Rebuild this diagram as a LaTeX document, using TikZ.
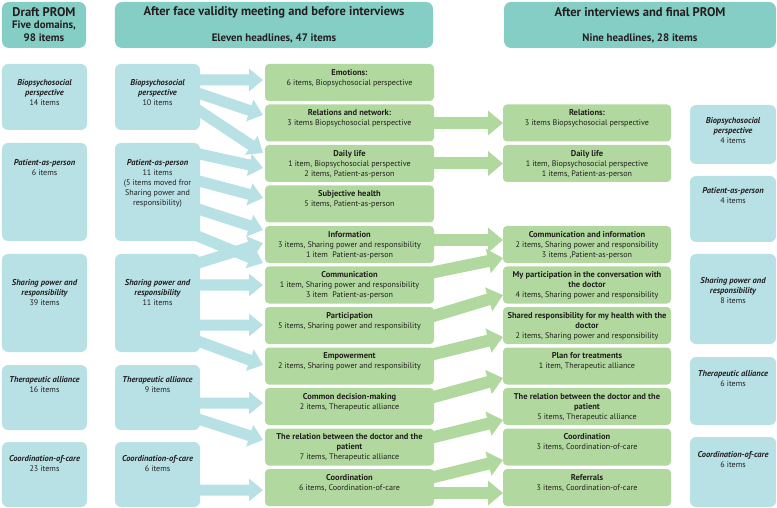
\documentclass[tikz,border=0pt]{standalone}
\usepackage{fontspec}
\setmainfont{PT Sans}
\usetikzlibrary{arrows.meta}
\definecolor{hdr}{HTML}{85CEC6}
\definecolor{lb}{HTML}{B7E1E5}
\definecolor{gr}{HTML}{B1D89E}
\definecolor{ink}{HTML}{231F20}
\newcommand\bi[1]{{\fontsize{8.5}{10}\selectfont\bfseries\itshape #1}}
\newcommand\tb[1]{{\fontsize{8.5}{10}\selectfont\bfseries #1}}
\begin{document}
\begin{tikzpicture}[x=1bp,y=-1bp,
  box/.style={draw=none, rounded corners=5bp, inner sep=0pt, outer sep=0pt},
  hbox/.style={box, fill=hdr, rounded corners=7bp},
  bbox/.style={box, fill=lb, rounded corners=6bp},
  gbox/.style={box, fill=gr, rounded corners=4bp, minimum width=169bp, minimum height=37bp},
  fbox/.style={box, fill=gr, rounded corners=4bp, minimum width=168bp, minimum height=37bp},
  sz/.style 2 args={minimum width=#1bp, minimum height=#2bp},
  txt/.style={inner sep=0pt, align=center, text=ink, font=\fontsize{8.1}{10}\selectfont},
  htxt/.style={inner sep=0pt, align=center, text=ink, font=\fontsize{10.9}{12}\selectfont\bfseries},
  ttxt/.style={inner sep=0pt, align=center, text=ink, font=\fontsize{12.6}{14}\selectfont\bfseries},
  barrow/.style={draw=lb, line width=11bp, -{Triangle[length=14bp,width=22bp]}},
  garrow/.style={draw=gr, line width=12bp, -{Triangle[length=15bp,width=24bp]}},
]
\useasboundingbox (0,0) rectangle (777,508);
% headers
\node[hbox, sz={84}{46}] (h1) at (44,25) {};
\node[hbox, sz={318}{46}] (h2) at (274,25) {};
\node[hbox, sz={272}{46}] (h3) at (640,25) {};
% column 1
\node[bbox, sz={85}{66}] (c1bio) at (44.5,97) {};
\node[bbox, sz={85}{98}] (c1pat) at (44.5,192) {};
\node[bbox, sz={85}{98}] (c1sha) at (44.5,303) {};
\node[bbox, sz={85}{65}] (c1the) at (44.5,397.5) {};
\node[bbox, sz={85}{65}] (c1coo) at (44.5,474.5) {};
% column 2
\node[bbox, sz={85}{66}] (c2bio) at (157.5,97) {};
\node[bbox, sz={85}{98}] (c2pat) at (157.5,192) {};
\node[bbox, sz={85}{98}] (c2sha) at (157.5,303) {};
\node[bbox, sz={85}{65}] (c2the) at (157.5,397.5) {};
\node[bbox, sz={85}{65}] (c2coo) at (157.5,474.5) {};
% column 5
\node[bbox, sz={86}{59}] (c5bio) at (733,134.5) {};
\node[bbox, sz={86}{66}] (c5pat) at (733,209) {};
\node[bbox, sz={86}{90}] (c5sha) at (733,299) {};
\node[bbox, sz={86}{68}] (c5the) at (733,391) {};
\node[bbox, sz={86}{70}] (c5coo) at (733,472) {};
% column 3
\node[gbox] (e0) at (349.5,82.5) {};
\node[gbox] (e1) at (349.5,123) {};
\node[gbox] (e2) at (349.5,163.5) {};
\node[gbox] (e3) at (349.5,204) {};
\node[gbox] (e4) at (349.5,244.5) {};
\node[gbox] (e5) at (349.5,285) {};
\node[gbox] (e6) at (349.5,325.5) {};
\node[gbox] (e7) at (349.5,366) {};
\node[gbox] (e8) at (349.5,406.5) {};
\node[gbox] (e9) at (349.5,447) {};
\node[gbox] (e10) at (349.5,487.5) {};
% column 4
\node[fbox] (f1) at (587,123) {};
\node[fbox] (f2) at (587,163.5) {};
\node[fbox] (f4) at (587,244.5) {};
\node[fbox] (f5) at (587,285) {};
\node[fbox] (f6) at (587,325.5) {};
\node[fbox] (f7) at (587,366) {};
\node[fbox] (f8) at (587,406.5) {};
\node[fbox] (f9) at (587,447) {};
\node[fbox] (f10) at (587,487.5) {};
% blue arrows
\draw[barrow] ([xshift=-5bp,yshift=17bp]c2bio.east) -- ([xshift=-2bp,yshift=2.5bp]e0.west);
\draw[barrow] ([xshift=-5bp,yshift=5bp]c2bio.east) -- ([xshift=-2bp,yshift=8bp]e1.west);
\draw[barrow] ([xshift=-5bp,yshift=-11bp]c2bio.east) -- ([xshift=-2bp,yshift=10.5bp]e2.west);
\draw[barrow] ([xshift=-5bp,yshift=39bp]c2pat.east) -- ([xshift=-2bp,yshift=-4.5bp]e2.west);
\draw[barrow] ([xshift=-5bp,yshift=12bp]c2pat.east) -- ([xshift=-2bp,yshift=6bp]e3.west);
\draw[barrow] ([xshift=-5bp,yshift=-16bp]c2pat.east) -- ([xshift=-2bp,yshift=14.5bp]e4.west);
\draw[barrow] ([xshift=-5bp,yshift=-43bp]c2pat.east) -- ([xshift=-2bp,yshift=22bp]e5.west);
\draw[barrow] ([xshift=-5bp,yshift=39bp]c2sha.east) -- ([xshift=-2bp,yshift=1.5bp]e4.west);
\draw[barrow] ([xshift=-5bp,yshift=18bp]c2sha.east) -- ([xshift=-2bp,yshift=0bp]e5.west);
\draw[barrow] ([xshift=-5bp,yshift=-22bp]c2sha.east) -- ([xshift=-2bp,yshift=0.5bp]e6.west);
\draw[barrow] ([xshift=-5bp,yshift=-37bp]c2sha.east) -- ([xshift=-2bp,yshift=1bp]e7.west);
\draw[barrow] ([xshift=-5bp,yshift=-5.5bp]c2the.east) -- ([xshift=-2bp,yshift=3.5bp]e8.west);
\draw[barrow] ([xshift=-5bp,yshift=-20.5bp]c2the.east) -- ([xshift=-2bp,yshift=7bp]e9.west);
\draw[barrow] ([xshift=-5bp,yshift=-15.5bp]c2coo.east) -- ([xshift=-2bp,yshift=-2.5bp]e10.west);
% green arrows
\draw[garrow] ([xshift=-4bp]e1.east) -- (f1.west);
\draw[garrow] ([xshift=-4bp]e2.east) -- (f2.west);
\draw[garrow] ([xshift=-4bp,yshift=4.5bp]e4.east) -- ([yshift=4.5bp]f4.west);
\draw[garrow] ([xshift=-4bp,yshift=12bp]e5.east) -- ([yshift=-13.5bp]f4.west);
\draw[garrow] ([xshift=-4bp,yshift=8.5bp]e6.east) -- ([yshift=-10bp]f5.west);
\draw[garrow] ([xshift=-4bp,yshift=11bp]e7.east) -- ([yshift=-11.5bp]f6.west);
\draw[garrow] ([xshift=-4bp,yshift=8.5bp]e8.east) -- ([yshift=-12bp]f7.west);
\draw[garrow] ([xshift=-4bp,yshift=9bp]e9.east) -- ([yshift=-13.5bp]f8.west);
\draw[garrow] ([xshift=-4bp,yshift=9.5bp]e10.east) -- ([yshift=-13bp]f9.west);
\draw[garrow] ([xshift=-4bp,yshift=-5.5bp]e10.east) -- ([yshift=-5.5bp]f10.west);
% header texts
\node[ttxt] (h1a) at (44,12) {Draft PROM};
\node[htxt] (h1b) at (44,25) {Five domains,};
\node[htxt] (h1c) at (44,38) {98 items};
\node[ttxt] (h2a) at (274,12) {After face validity meeting and before interviews};
\node[htxt] (h2b) at (274,38) {Eleven headlines, 47 items};
\node[ttxt] (h3a) at (640,12) {After interviews and final PROM};
\node[htxt] (h3b) at (640,38) {Nine headlines, 28 items};
% column 1 texts
\node[txt, anchor=north] (t1bio) at ([yshift=-15bp]c1bio.north) {\bi{Biopsychosocial}\\\bi{perspective}\\14 items};
\node[txt, anchor=north] (t1pat) at ([yshift=-16bp]c1pat.north) {\bi{Patient-as-person}\\6 items};
\node[txt, anchor=north] (t1sha) at ([yshift=-25bp]c1sha.north) {\bi{Sharing power and}\\\bi{responsibility}\\39 items};
\node[txt, anchor=north] (t1the) at ([yshift=-11bp]c1the.north) {\bi{Therapeutic alliance}\\16 items};
\node[txt, anchor=north] (t1coo) at ([yshift=-13bp]c1coo.north) {\bi{Coordination-of-care}\\23 items};
% column 2 texts
\node[txt, anchor=north] (t2bio) at ([yshift=-15bp]c2bio.north) {\bi{Biopsychosocial}\\\bi{perspective}\\10 items};
\node[txt, anchor=north] (t2pat) at ([yshift=-16bp]c2pat.north) {\bi{Patient-as-person}\\11 items\\(5 items moved fror\\Sharing power and\\responsibility)};
\node[txt, anchor=north] (t2sha) at ([yshift=-25bp]c2sha.north) {\bi{Sharing power and}\\\bi{responsibility}\\11 items};
\node[txt, anchor=north] (t2the) at ([yshift=-11bp]c2the.north) {\bi{Therapeutic alliance}\\9 items};
\node[txt, anchor=north] (t2coo) at ([yshift=-13bp]c2coo.north) {\bi{Coordination-of-care}\\6 items};
% column 5 texts
\node[txt, anchor=north] (t5bio) at ([yshift=-12bp]c5bio.north) {\bi{Biopsychosocial}\\\bi{perspective}\\4 items};
\node[txt, anchor=north] (t5pat) at ([yshift=-11bp]c5pat.north) {\bi{Patient-as-person}\\4 items};
\node[txt, anchor=north] (t5sha) at ([yshift=-23bp]c5sha.north) {\bi{Sharing power and}\\\bi{responsibility}\\8 items};
\node[txt, anchor=north] (t5the) at ([yshift=-13bp]c5the.north) {\bi{Therapeutic alliance}\\6 items};
\node[txt, anchor=north] (t5coo) at ([yshift=-14bp]c5coo.north) {\bi{Coordination-of-care}\\6 items};
% column 3 texts
\node[txt, anchor=north] (te0) at ([yshift=-5bp]e0.north) {\tb{Emotions:}\\6 items, Biopsychosocial perspective};
\node[txt, anchor=north] (te1) at ([yshift=-5bp]e1.north) {\tb{Relations and network:}\\3 items Biopsychosocial perspective};
\node[txt, anchor=north] (te2) at ([yshift=-5bp]e2.north) {\tb{Daily life}\\1 item, Biopsychosocial perspective\\2 items, Patient-as-person};
\node[txt, anchor=north] (te3) at ([yshift=-5bp]e3.north) {\tb{Subjective health}\\5 items, Patient-as-person};
\node[txt, anchor=north] (te4) at ([yshift=-5bp]e4.north) {\tb{Information}\\3 items, Sharing power and responsibility\\1 item\ \ Patient-as-person};
\node[txt, anchor=north] (te5) at ([yshift=-5bp]e5.north) {\tb{Communication}\\1 item, Sharing power and responsibility\\3 item\ \ Patient-as-person};
\node[txt, anchor=north] (te6) at ([yshift=-5bp]e6.north) {\tb{Participation}\\5 items, Sharing power and responsibility};
\node[txt, anchor=north] (te7) at ([yshift=-5bp]e7.north) {\tb{Empowerment}\\2 items, Sharing power and responsibility};
\node[txt, anchor=north] (te8) at ([yshift=-5bp]e8.north) {\tb{Common decision-making}\\2 items, Therapeutic alliance};
\node[txt, anchor=north] (te9) at ([yshift=-5bp]e9.north) {\tb{The relation between the doctor and the}\\\tb{patient}\\7 items, Therapeutic alliance};
\node[txt, anchor=north] (te10) at ([yshift=-5bp]e10.north) {\tb{Coordination}\\6 items, Coordination-of-care};
% column 4 texts
\node[txt, anchor=north] (tf1) at ([yshift=-5bp]f1.north) {\tb{Relations:}\\3 items Biopsychosocial perspective};
\node[txt, anchor=north] (tf2) at ([yshift=-5bp]f2.north) {\tb{Daily life}\\1 item, Biopsychosocial perspective\\1 items, Patient-as-person};
\node[txt, anchor=north] (tf4) at ([yshift=-5bp]f4.north) {\tb{Communication and information}\\2 items, Sharing power and responsibility\\3 items ,Patient-as-person};
\node[txt, anchor=north] (tf5) at ([yshift=-5bp]f5.north) {\tb{My participation in the conversation with}\\\tb{the doctor}\\4 items, Sharing power and responsibility};
\node[txt, anchor=north] (tf6) at ([yshift=-5bp]f6.north) {\tb{Shared responsibility for my health with the}\\\tb{doctor}\\2 items, Sharing power and responsibility};
\node[txt, anchor=north] (tf7) at ([yshift=-5bp]f7.north) {\tb{Plan for treatments}\\1 item, Therapeutic alliance};
\node[txt, anchor=north] (tf8) at ([yshift=-5bp]f8.north) {\tb{The relation between the doctor and the}\\\tb{patient}\\5 items, Therapeutic alliance};
\node[txt, anchor=north] (tf9) at ([yshift=-5bp]f9.north) {\tb{Coordination}\\3 items, Coordination-of-care};
\node[txt, anchor=north] (tf10) at ([yshift=-5bp]f10.north) {\tb{Referrals}\\3 items, Coordination-of-care};
\end{tikzpicture}
\end{document}
